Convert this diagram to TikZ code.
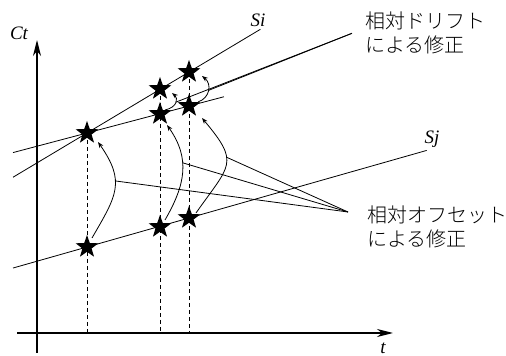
\documentclass[tikz,border=0pt]{standalone}
\usepackage{fontspec}
\setmainfont{Liberation Serif}
\newfontfamily\jpfont{Noto Sans CJK JP Light}
\usetikzlibrary{shapes.geometric, arrows.meta, calc}

\begin{document}
\begin{tikzpicture}[x=1pt, y=1pt,
  starmark/.style={star, star points=5, star point ratio=2.5, fill=black,
    inner sep=0pt, minimum size=24pt},
  axis/.style={line width=1.4pt, -{Stealth[length=16pt, width=8pt, inset=5pt]}},
  trend/.style={line width=0.8pt},
  guide/.style={line width=0.8pt, dash pattern=on 4pt off 3pt},
  corr/.style={line width=0.8pt, -{Stealth[length=6pt, width=4.5pt]}},
  leader/.style={line width=0.8pt},
  note/.style={font=\jpfont\fontsize{20}{24}\selectfont, align=left,
    inner sep=0pt, anchor=north west},
  lbl/.style={font=\fontsize{19}{19}\selectfont\itshape, inner sep=0pt},
]
  \useasboundingbox (0,0) rectangle (506,356);

  % Axes
  \coordinate (O) at (37,23);
  \draw[axis] (37,3) -- (37,316);
  \draw[axis] (17,23) -- (393,23);
  \node[lbl] (ct) at (19,323) {Ct};
  \node[lbl] (tlabel) at (383,8) {t};

  % Stars
  \node[starmark] (A) at (87,223) {};
  \node[starmark] (B) at (160,267) {};
  \node[starmark] (C) at (189,284) {};
  \node[starmark] (D) at (160,242) {};
  \node[starmark] (E) at (189,250) {};
  \node[starmark] (F) at (87,109) {};
  \node[starmark] (G) at (160,129) {};
  \node[starmark] (H) at (189,138) {};

  % Clock lines
  \draw[trend] ($(A.center)!-0.725!(C.center)$) -- ($(A.center)!1.7!(C.center)$);
  \draw[trend] ($(A.center)!-0.725!(E.center)$) -- ($(A.center)!1.343!(E.center)$);
  \draw[trend] ($(F.center)!-0.725!(H.center)$) -- ($(F.center)!3.33!(H.center)$);
  \node[lbl] (si) at (258,336) {Si};
  \node[lbl] (sj) at (432,217) {Sj};

  % Sample times
  \draw[guide] (A.center) -- (A.center |- O);
  \draw[guide] (B.center) -- (B.center |- O);
  \draw[guide] (C.center) -- (C.center |- O);

  % Offset corrections
  \draw[corr] ($(F.center)+(5,9)$) to[out=60, in=-55, looseness=1.3]
    coordinate[pos=0.6] (o1) ($(A.center)+(11,-9)$);
  \draw[corr] ($(G.center)+(5,7)$) to[out=60, in=-55, looseness=1.1]
    coordinate[pos=0.6] (o2) ($(D.center)+(7,-11)$);
  \draw[corr] ($(H.center)+(7,5)$) to[out=55, in=-50, looseness=1.6]
    coordinate[pos=0.6] (o3) ($(E.center)+(13,-12)$);

  % Drift corrections
  \draw[corr] ($(D.center)+(5,4)$) .. controls ($(D.center)+(18,7)$)
    and ($(D.center)+(18,16)$) .. coordinate[pos=0.5] (d1) ($(B.center)+(12,-4)$);
  \draw[corr] ($(E.center)+(9,4)$) .. controls ($(E.center)+(21,8)$)
    and ($(E.center)+(23,22)$) .. coordinate[pos=0.5] (d2) ($(C.center)+(13,-4)$);

  % Notes
  \node[note] (drift) at (365,344) {相対ドリフト\\による修正};
  \node[note] (offset) at (367,150) {相対オフセット\\による修正};
  \coordinate (dl) at ([xshift=-13pt]drift.west);
  \coordinate (ol) at ($(offset.north west)+(-19,-6)$);
  \draw[leader] (dl) -- (d1);
  \draw[leader] (dl) -- (d2);
  \draw[leader] (ol) -- (o1);
  \draw[leader] (ol) -- (o2);
  \draw[leader] (ol) -- (o3);
\end{tikzpicture}
\end{document}
